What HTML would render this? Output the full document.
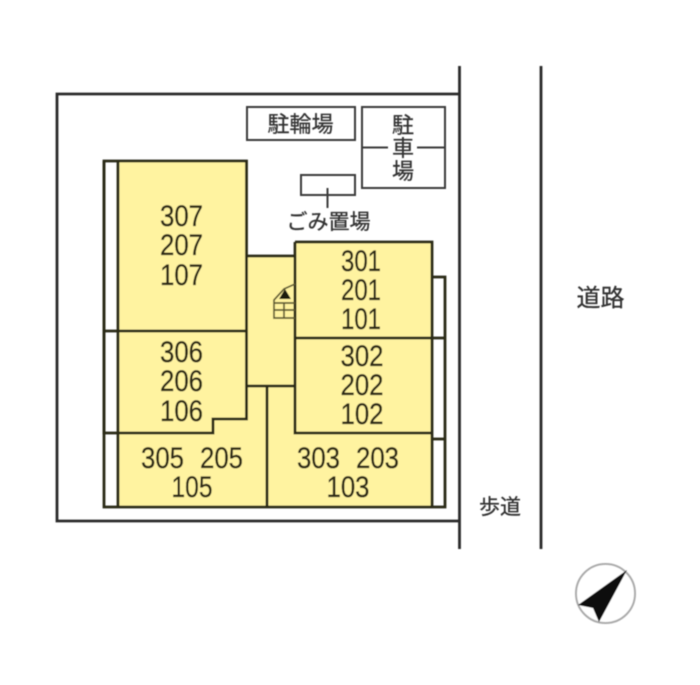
<!DOCTYPE html>
<html><head><meta charset="utf-8"><style>
html,body{margin:0;padding:0;background:#fff}
svg{display:block}
.n{font-family:"Liberation Sans",sans-serif;font-size:30px;fill:#2e2a16;stroke:#2e2a16;stroke-width:.35px;text-anchor:middle}
.j{font-family:"Liberation Sans","Noto Sans CJK JP",sans-serif;fill:#333;stroke:#333;stroke-width:.3px;text-anchor:middle}
</style></head><body>
<svg width="700" height="685" viewBox="0 0 700 685" xmlns="http://www.w3.org/2000/svg">
<defs><filter id="b" filterUnits="userSpaceOnUse" x="0" y="0" width="700" height="685"><feGaussianBlur stdDeviation="0.4"/></filter></defs>
<rect width="700" height="685" fill="#fff"/>
<g filter="url(#b)">
<g fill="none" stroke="#2c2c2c" stroke-width="2.800">
<path d="M459 94H57V521H459" />
<path d="M459.500 66V549"/>
<path d="M541 66V549"/>
</g>
<path d="M118 161H246.500V256H295V242H432V507H118Z" fill="#fff3a0"/>
<g fill="none" stroke="#2a2a18" stroke-width="2.800">
<path d="M104 161H246.500V419H213V433H104Z"/>
<path d="M104 161V507H445V277H432"/>
<path d="M118 161V507"/>
<path d="M104 331H246.500"/>
<path d="M246.500 256H295"/>
<path d="M246.500 386H295"/>
<path d="M267 386V507"/>
<path d="M295 242H432V507"/>
<path d="M295 242V433H432"/>
<path d="M295 338H445"/>
<path d="M432 439H445"/>
</g>
<g fill="none" stroke="#5f5a30" stroke-width="1.700">
<path d="M295 284L284 289L274 300V318H295"/>
<path d="M274 303H295M274 310H295M284 303V318"/>
</g>
<path d="M285 289L279 299H291Z" fill="#1c1c10"/>
<g fill="none" stroke="#3a3a3a" stroke-width="2">
<rect x="247" y="107" width="108" height="33"/>
<rect x="362" y="107" width="83" height="81"/>
<rect x="301" y="175" width="54" height="20"/>
<path d="M362 147.500H388M417 147.500H445"/>
<path d="M327.500 188V208"/>
</g>
<text class="n" x="181.500" y="226" textLength="43" lengthAdjust="spacingAndGlyphs">307</text>
<text class="n" x="181.500" y="255" textLength="43" lengthAdjust="spacingAndGlyphs">207</text>
<text class="n" x="181.500" y="285" textLength="43" lengthAdjust="spacingAndGlyphs">107</text>
<text class="n" x="181.500" y="362" textLength="43" lengthAdjust="spacingAndGlyphs">306</text>
<text class="n" x="181.500" y="391" textLength="43" lengthAdjust="spacingAndGlyphs">206</text>
<text class="n" x="181.500" y="421" textLength="43" lengthAdjust="spacingAndGlyphs">106</text>
<text class="n" x="162.500" y="468" textLength="43" lengthAdjust="spacingAndGlyphs">305</text>
<text class="n" x="221.500" y="468" textLength="43" lengthAdjust="spacingAndGlyphs">205</text>
<text class="n" x="192" y="497" textLength="41" lengthAdjust="spacingAndGlyphs">105</text>
<text class="n" x="361" y="271" textLength="40" lengthAdjust="spacingAndGlyphs">301</text>
<text class="n" x="361" y="300" textLength="40" lengthAdjust="spacingAndGlyphs">201</text>
<text class="n" x="361" y="329" textLength="40" lengthAdjust="spacingAndGlyphs">101</text>
<text class="n" x="362" y="366" textLength="43" lengthAdjust="spacingAndGlyphs">302</text>
<text class="n" x="362" y="395" textLength="43" lengthAdjust="spacingAndGlyphs">202</text>
<text class="n" x="362" y="424" textLength="43" lengthAdjust="spacingAndGlyphs">102</text>
<text class="n" x="318.500" y="468" textLength="43" lengthAdjust="spacingAndGlyphs">303</text>
<text class="n" x="377.500" y="468" textLength="43" lengthAdjust="spacingAndGlyphs">203</text>
<text class="n" x="348" y="497" textLength="43" lengthAdjust="spacingAndGlyphs">103</text>
<text class="j" x="300.500" y="132" font-size="22">駐輪場</text>
<text class="j" x="403" y="133" font-size="22">駐</text>
<text class="j" x="403" y="156" font-size="22">車</text>
<text class="j" x="403" y="179" font-size="22">場</text>
<text class="j" x="328.500" y="229" font-size="21">ごみ置場</text>
<text class="j" x="600.500" y="306" font-size="24">道路</text>
<text class="j" x="500" y="514" font-size="21">歩道</text>
<circle cx="605.500" cy="593.500" r="29.500" fill="#fff" stroke="#aaa" stroke-width="2"/>
<path d="M627 570L578 605L593 608L599 622Z" fill="#0c0c0c"/>
</g>
</svg>
</body></html>
